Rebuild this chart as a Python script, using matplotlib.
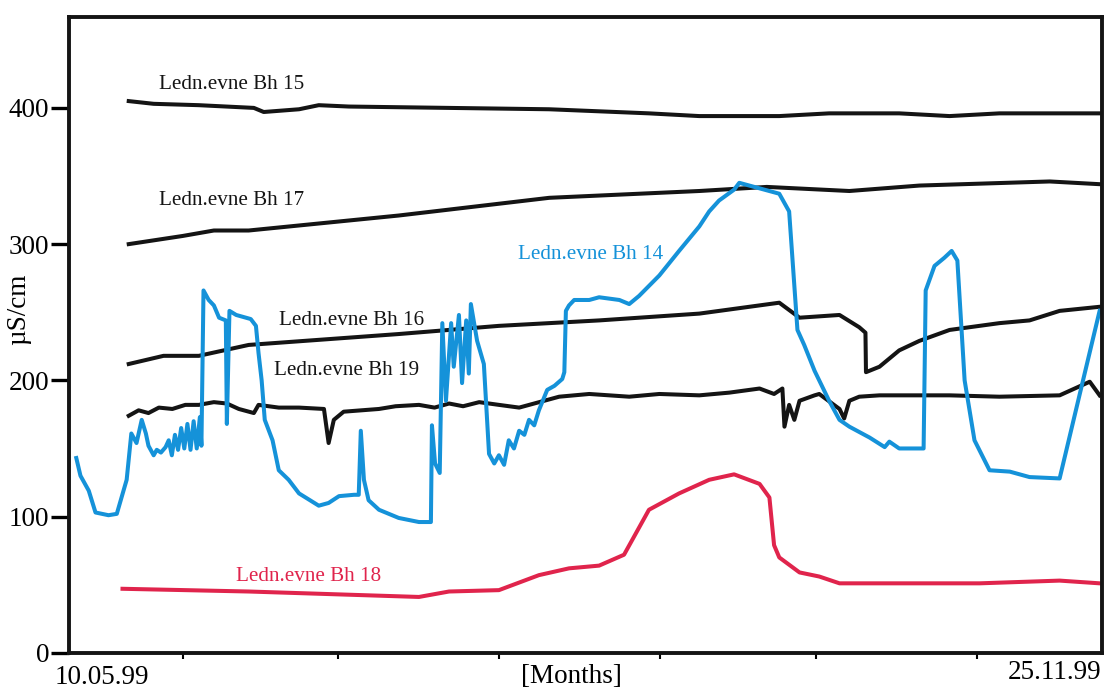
#Import required packages
import numpy as np
import matplotlib.pyplot as plt

plt.rcParams['font.family'] = ['Liberation Serif', 'DejaVu Serif']

# x = days after 10.05.99, y = conductivity in uS/cm
bh15_x = [11.6, 16.4, 25.1, 35.7, 37.6, 44.4, 48.2, 54.0, 73.3, 92.6, 111.8, 121.5, 136.9, 146.5, 160.0, 169.7, 179.3, 198.6]
bh15_y = [405, 403, 402, 400, 397, 399, 402, 401, 400, 399, 396, 394, 394, 396, 396, 394, 396, 396]

bh17_x = [11.6, 22.0, 28.0, 34.7, 63.6, 92.6, 121.5, 134.5, 150.4, 163.9, 189.0, 198.6]
bh17_y = [300, 306, 310, 310, 321, 334, 339, 342, 339, 343, 346, 344]

bh16_x = [11.6, 18.3, 25.1, 34.7, 63.6, 82.9, 102.2, 121.5, 136.9, 140.8, 148.5, 152.3, 153.5, 153.6, 156.2, 160.0, 163.9, 169.7, 179.3, 185.1, 190.9, 198.6]
bh16_y = [212, 218, 218, 226, 234, 240, 244, 249, 257, 246, 248, 239, 235, 206, 210, 222, 229, 237, 242, 244, 251, 254]

bh19_x = [11.6, 13.5, 15.4, 17.4, 20.0, 22.5, 25.1, 28.0, 30.5, 32.8, 35.7, 36.6, 40.5, 44.4, 49.2, 50.1, 51.1, 53.0,
          59.8, 63.0, 67.5, 70.5, 73.3, 76.0, 79.1, 82.9, 86.8, 94.5, 100.3, 108.0, 113.8, 121.5, 127.3, 133.1,
          135.9, 137.5, 137.9, 138.8, 139.8, 140.8, 143.7, 144.6, 148.5, 149.4, 150.4, 152.3, 156.2, 169.7,
          179.3, 190.9, 196.7, 198.6]
bh19_y = [174, 178, 176, 180, 179, 182, 182, 184, 183, 179, 176, 182, 180, 180, 179, 154, 171, 177,
          179, 181, 182, 180, 183, 181, 184, 182, 180, 188, 190, 188, 190, 189, 191, 194,
          190, 194, 166, 182, 171, 185, 189, 190, 179, 172, 185, 188, 189, 189,
          188, 189, 199, 189]

bh18_x = [10.4, 34.7, 67.5, 73.3, 82.9, 90.6, 96.4, 102.2, 107.0, 111.8, 117.6, 123.4, 128.2, 133.1, 135.0, 135.9,
          136.9, 140.8, 144.6, 148.5, 160.0, 175.5, 190.9, 198.6]
bh18_y = [47, 45, 41, 45, 46, 57, 62, 64, 72, 105, 117, 127, 131, 124, 114, 79,
          70, 59, 56, 51, 51, 51, 53, 51]

bh14_x = [1.5, 2.3, 3.9, 5.2, 7.7, 9.3, 10.6, 11.2, 12.1, 13.1, 14.1, 14.9, 15.4, 16.4, 17.0, 17.8, 18.7,
          19.3, 19.9, 20.5, 21.1, 21.7, 22.3, 22.9, 23.5, 24.1, 24.7, 25.3, 25.6, 26.0, 27.0, 28.0, 29.0,
          30.3, 30.5, 31.0, 32.3, 35.1, 36.1, 36.6, 37.2, 37.8, 39.3, 40.5, 42.4, 44.4, 48.2, 50.1, 52.1,
          55.0, 55.9, 56.3, 56.9, 57.8, 59.8, 63.6, 67.5, 69.8, 70.0, 70.6, 71.5, 72.0, 72.7, 73.7, 74.2,
          75.2, 75.8, 76.6, 77.1, 77.5, 78.7, 80.0, 81.0, 82.0, 82.9, 83.9, 84.8, 85.8, 86.8, 87.8, 88.7,
          89.7, 90.6, 92.2, 93.6, 95.1, 95.5, 95.8, 96.4, 97.4, 100.3, 102.2, 106.1, 108.0, 109.9, 113.8,
          117.6, 121.5, 123.4, 125.3, 128.2, 129.2, 134.0, 136.9, 138.8, 140.4, 141.7, 143.7, 146.5, 148.5,
          150.4, 154.3, 157.2, 158.1, 160.0, 164.7, 165.1, 166.8, 168.7, 170.1, 171.2, 172.6, 174.5, 177.4,
          181.3, 185.1, 190.9, 198.6]
bh14_y = [143, 130, 119, 103, 101, 102, 119, 127, 161, 154, 171, 161, 152, 145, 149, 147, 151,
          156, 145, 160, 149, 165, 150, 168, 149, 170, 150, 173, 152, 266, 259, 255, 246,
          244, 168, 251, 248, 245, 240, 220, 200, 171, 156, 134, 127, 117, 108, 110, 115,
          116, 116, 163, 127, 112, 105, 99, 96, 96, 167, 139, 132, 242, 185, 242, 210,
          248, 198, 244, 205, 256, 229, 212, 146, 139, 145, 138, 156, 150, 163, 160, 171,
          167, 178, 193, 196, 201, 206, 251, 255, 259, 259, 261, 259, 256, 262, 277,
          295, 313, 324, 332, 340, 345, 340, 337, 324, 237, 226, 207, 185, 171,
          166, 158, 151, 155, 150, 150, 266, 284, 290, 295, 288, 200, 156, 134,
          133, 129, 128, 251]

labels = ["Ledn.evne Bh 15", "Ledn.evne Bh 17", "Ledn.evne Bh 14", "Ledn.evne Bh 16", "Ledn.evne Bh 19", "Ledn.evne Bh 18"]
month_ticks = [22, 52, 83, 114, 144, 175]

blue = '#1592d9'
red = '#e0244c'
black = '#141414'

fig = plt.figure(figsize=(11.05, 6.93), dpi=100)
ax = fig.add_axes([0.062, 0.058, 0.935, 0.918])

ax.plot(bh15_x, bh15_y, color=black, lw=2.9)
ax.plot(bh17_x, bh17_y, color=black, lw=2.9)
ax.plot(bh16_x, bh16_y, color=black, lw=2.9)
ax.plot(bh19_x, bh19_y, color=black, lw=2.9)
ax.plot(bh18_x, bh18_y, color=red, lw=2.9)
ax.plot(bh14_x, bh14_y, color=blue, lw=2.9)

#Series labels
fs = 15.2
ax.text(17.5, 414, labels[0], fontsize=fs, color=black)
ax.text(17.5, 329, labels[1], fontsize=fs, color=black)
ax.text(86.5, 289, labels[2], fontsize=fs, color=blue)
ax.text(40.5, 241, labels[3], fontsize=fs, color=black)
ax.text(39.5, 204, labels[4], fontsize=fs, color=black)
ax.text(32.3, 53, labels[5], fontsize=fs, color=red)

ax.set_xlim(0, 199)
ax.set_ylim(0, 467)
ax.set_yticks([0, 100, 200, 300, 400])
ax.set_xticks(month_ticks)
ax.set_xticklabels([])
ax.tick_params(axis='y', direction='out', length=13, width=2.4, pad=1, labelsize=19.5)
ax.tick_params(axis='x', direction='out', length=4, width=1.5)
for s in ax.spines.values():
    s.set_linewidth(2.8)
    s.set_color(black)

ax.set_ylabel("µS/cm", fontsize=19.5)
ax.yaxis.set_label_coords(-0.036, 0.54)
fig.text(0.092, 0.022, "10.05.99", fontsize=19.5, ha='center', va='center')
fig.text(0.954, 0.030, "25.11.99", fontsize=19.5, ha='center', va='center')
fig.text(0.517, 0.024, "[Months]", fontsize=19.5, ha='center', va='center')

plt.savefig("out.png")
